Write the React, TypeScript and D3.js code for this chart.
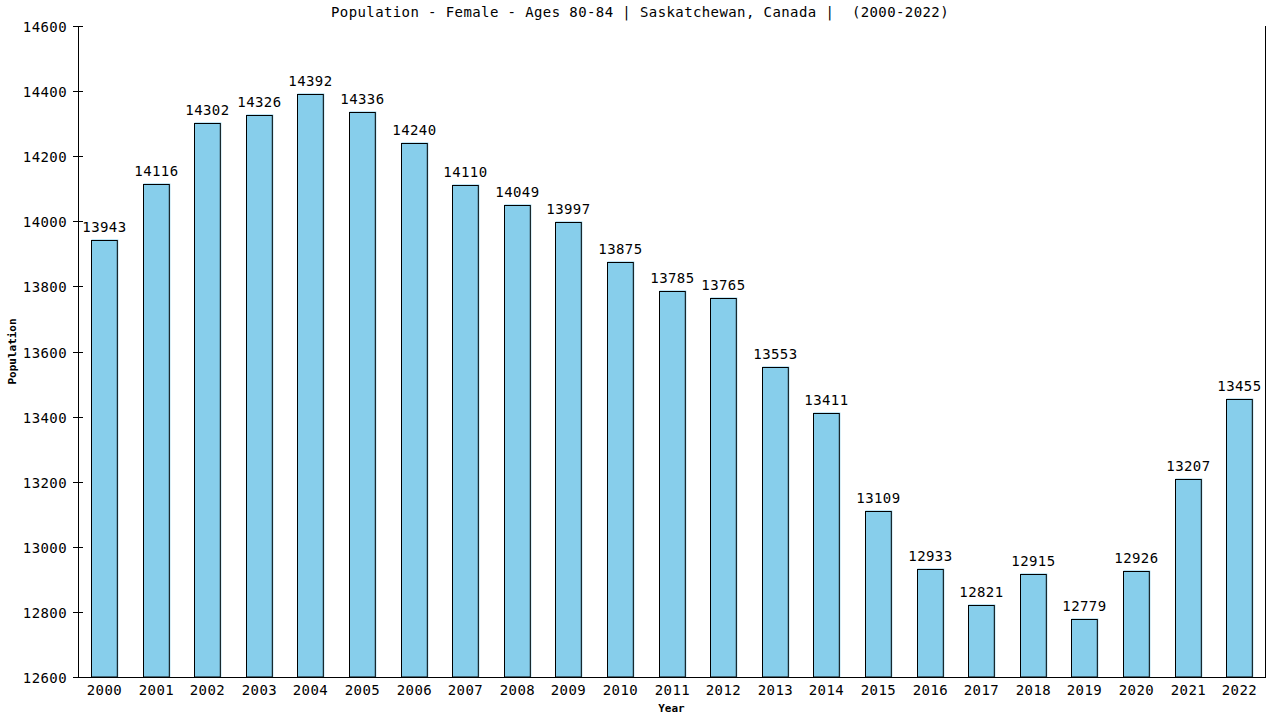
import React from "react";
import * as d3 from "d3";

const years: string[] = ["2000","2001","2002","2003","2004","2005","2006","2007","2008","2009","2010","2011","2012","2013","2014","2015","2016","2017","2018","2019","2020","2021","2022"];
const population: number[] = [13943,14116,14302,14326,14392,14336,14240,14110,14049,13997,13875,13785,13765,13553,13411,13109,12933,12821,12915,12779,12926,13207,13455];
const yTicks: number[] = [12600,12800,13000,13200,13400,13600,13800,14000,14200,14400,14600];
const title = "Population - Female - Ages 80-84 | Saskatchewan, Canada |  (2000-2022)";

const W = 1280, H = 720;
const left = 78, right = 1265, top = 26, bottom = 677;
const font = "'DejaVu Sans Mono', monospace";
const fs = 14;
const ls = 0.4;

export default function App() {
  const x = d3.scaleBand<string>().domain(years).range([left, right]).paddingInner(0.5).paddingOuter(0.25);
  const y = d3.scaleLinear().domain([12600, 14600]).range([bottom, top]);
  const bw = x.bandwidth();
  return (
    <div style={{ position: "absolute", left: 0, top: 0 }}>
      <svg width={W} height={H} style={{ display: "block", background: "#fff" }}>
        <text x={640} y={17} textAnchor="middle" fontFamily={font} fontSize={fs} letterSpacing={ls} fill="#000" style={{ whiteSpace: "pre" }}>{title}</text>
        {years.map((yr, i) => {
          const x0 = Math.round(x(yr)!) + 0.5;
          const y0 = Math.round(y(population[i])) + 0.5;
          return (
            <g key={yr}>
              <rect x={x0} y={y0 - 1} width={bw + 1} height={bottom - y0 + 1} fill="#87CEEB" />
              <rect x={x0} y={y0} width={bw} height={bottom - y0} fill="#87CEEB" stroke="#000" strokeWidth={1} />
              <text x={x0 + bw / 2} y={y0 - 9} textAnchor="middle" fontFamily={font} fontSize={fs} letterSpacing={ls} fill="#000">{population[i]}</text>
              <text x={x0 + bw / 2} y={695} textAnchor="middle" fontFamily={font} fontSize={fs} letterSpacing={ls} fill="#000">{yr}</text>
            </g>
          );
        })}
        <line x1={left + 0.5} y1={top} x2={left + 0.5} y2={bottom} stroke="#000" />
        <line x1={right + 0.5} y1={top} x2={right + 0.5} y2={bottom} stroke="#000" />
        <line x1={left} y1={bottom + 0.5} x2={right + 1} y2={bottom + 0.5} stroke="#000" />
        {yTicks.map((t) => {
          const ty = Math.round(y(t)) + 0.5;
          return (
            <g key={t}>
              <line x1={73} y1={ty} x2={83} y2={ty} stroke="#000" />
              <text x={67} y={ty + 5} textAnchor="end" fontFamily={font} fontSize={fs} letterSpacing={ls} fill="#000">{t}</text>
            </g>
          );
        })}
        <text x={(left + right) / 2} y={712} textAnchor="middle" fontFamily={font} fontSize={11} fontWeight="bold" fill="#000">Year</text>
        <text transform={`translate(16,${(top + bottom) / 2}) rotate(-90)`} textAnchor="middle" fontFamily={font} fontSize={11} fontWeight="bold" fill="#000">Population</text>
      </svg>
    </div>
  );
}
